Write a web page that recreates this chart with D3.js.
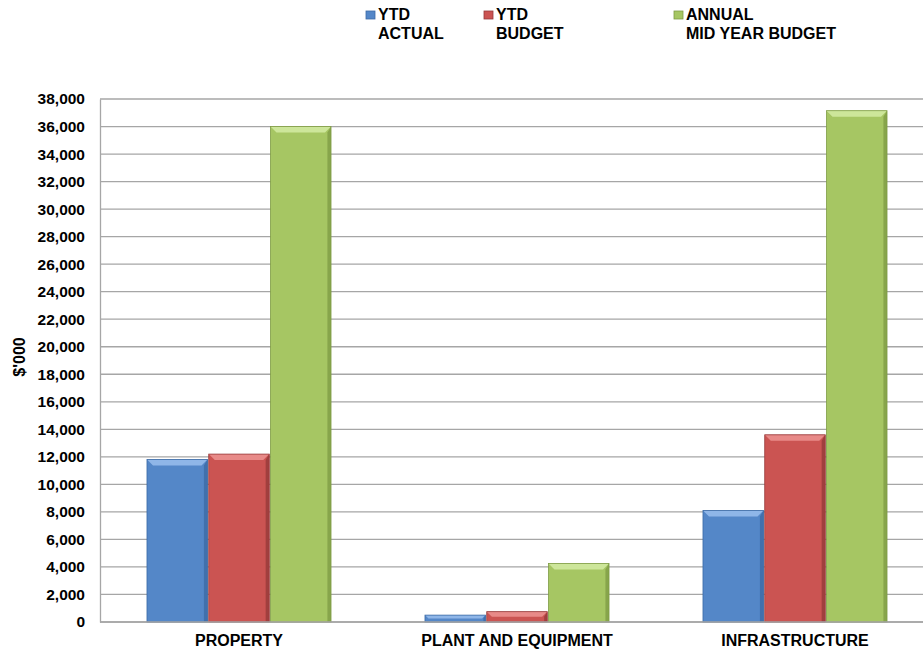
<!DOCTYPE html>
<html><head><meta charset="utf-8">
<script src="https://cdn.jsdelivr.net/npm/d3@7"></script>
<style>body{margin:0;background:#fff}svg{display:block}text{font-family:Arial,"Liberation Sans",sans-serif;font-weight:bold;fill:#000}</style>
</head><body><svg id="c" width="923" height="653"></svg>
<script>
const categories = ["PROPERTY", "PLANT AND EQUIPMENT", "INFRASTRUCTURE"];
const seriesNames = [["YTD", "ACTUAL"], ["YTD", "BUDGET"], ["ANNUAL", "MID YEAR BUDGET"]];
const ytdActual = [11800, 500, 8100];
const ytdBudget = [12200, 750, 13600];
const annualMidYear = [36000, 4250, 37150];
const yTicks = d3.range(0, 38001, 2000);

const colors = ["#5487c8", "#cb5452", "#a6c663"];
const lightC = ["#8fb6e8", "#e88a88", "#cde69a"];
const darkC = ["#3c6aa5", "#96393a", "#7f9c45"];
const seriesData = [ytdActual, ytdBudget, annualMidYear];
const FONT = "Arial, 'Liberation Sans', sans-serif";

const svg = d3.select("#c");
const x0 = d3.scaleBand().domain(categories).range([100, 934]).paddingInner(0.338).paddingOuter(0.169);
const x1 = d3.scaleBand().domain([0,1,2]).range([0, x0.bandwidth()]).paddingInner(0.02);
const y = d3.scaleLinear().domain([0, 38000]).range([622, 99]);

// gridlines
svg.append("g").selectAll("line").data(yTicks).join("line")
  .attr("x1", 100).attr("x2", 923).attr("y1", d => y(d)).attr("y2", d => y(d))
  .attr("stroke", "#a6a6a6").attr("stroke-width", 1.3);

// y axis
const yAxis = d3.axisLeft(y).tickValues(yTicks).tickFormat(d3.format(",")).tickSize(0).tickPadding(15);
const ga = svg.append("g").attr("transform", "translate(100,0)").call(yAxis);
ga.select(".domain").attr("stroke", "#a6a6a6").attr("stroke-width", 1.3);
ga.selectAll("text").style("font-size", "15.5px").style("font-family", FONT).style("font-weight", "bold").attr("fill", "#000");

// x axis labels
const gx = svg.append("g").attr("transform", "translate(0,622)")
  .call(d3.axisBottom(x0).tickSize(0).tickPadding(13));
gx.select(".domain").remove();
gx.selectAll("text").style("font-size", "16px").style("font-family", FONT).style("font-weight", "bold").attr("fill", "#000");

// bars with bevel
const bars = [];
categories.forEach((c, ci) => seriesData.forEach((arr, si) => bars.push({c, si, v: arr[ci]})));
const bg = svg.append("g");
bars.forEach(b => {
  const bx = x0(b.c) + x1(b.si), bw = x1.bandwidth();
  const top = y(b.v), bot = y(0), h = bot - top;
  const g = bg.append("g");
  g.append("rect").attr("x", bx).attr("y", top).attr("width", bw).attr("height", h).attr("fill", colors[b.si]);
  const e = Math.min(6, h / 2);
  g.append("path").attr("d", `M${bx},${top}L${bx+bw},${top}L${bx+bw-e},${top+e}L${bx+e},${top+e}Z`).attr("fill", lightC[b.si]);
  g.append("path").attr("d", `M${bx+bw},${top}L${bx+bw-e*0.6},${top+e}L${bx+bw-e*0.6},${bot}L${bx+bw},${bot}Z`).attr("fill", darkC[b.si]).attr("opacity", 0.8);
  g.append("rect").attr("x", bx).attr("y", top).attr("width", bw).attr("height", h).attr("fill", "none").attr("stroke", darkC[b.si]).attr("stroke-width", 0.8);
});

// baseline
svg.append("line").attr("x1", 100).attr("x2", 923).attr("y1", y(0)).attr("y2", y(0)).attr("stroke", "#a6a6a6").attr("stroke-width", 1.3);

// y label
svg.append("text").attr("transform", "translate(25,357) rotate(-90)").attr("text-anchor", "middle")
  .style("font-size", "16px").text("$'000");

// legend
const legX = [366, 484, 674];
seriesNames.forEach((n, i) => {
  const g = svg.append("g");
  g.append("rect").attr("x", legX[i]).attr("y", 11).attr("width", 9).attr("height", 8).attr("fill", colors[i]).attr("stroke", darkC[i]).attr("stroke-width", 0.8);
  g.append("text").attr("x", legX[i] + 12).attr("y", 20).style("font-size", "16px").text(n[0]);
  g.append("text").attr("x", legX[i] + 12).attr("y", 39).style("font-size", "16px").text(n[1]);
});
</script></body></html>
